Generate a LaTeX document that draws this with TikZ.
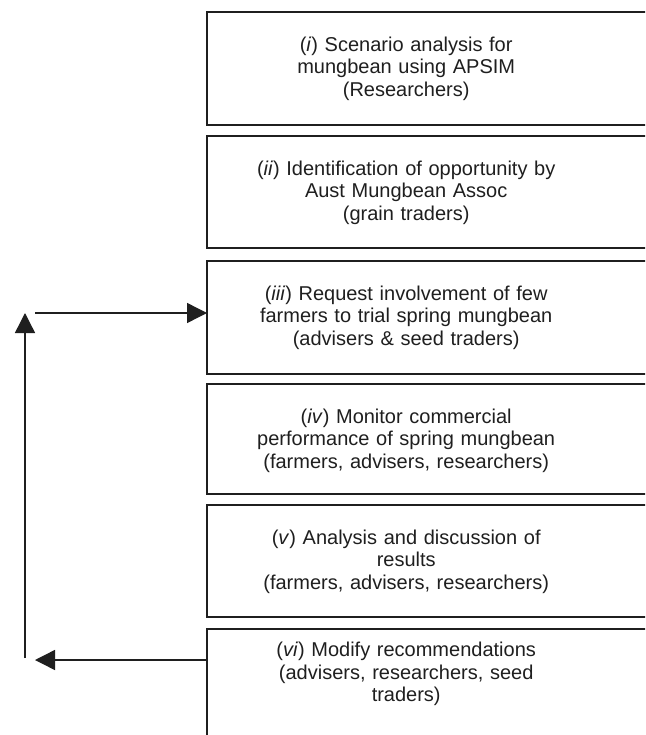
\documentclass[tikz,border=0pt]{standalone}
\usepackage{fontspec}
\setmainfont{Liberation Sans}
\usetikzlibrary{arrows.meta}
\colorlet{ink}{black!88}
\tikzset{
  stage/.style={anchor=north west, minimum width=398pt, minimum height=113pt,
    text width=390pt, align=center, inner sep=0pt,
    font=\fontsize{20}{22.5}\selectfont, text=ink},
  boxline/.style={ink, line width=1.6pt},
  flow/.style={ink, line width=1.4pt, -{Triangle[length=20pt, width=20pt]}}
}

\begin{document}
\begin{tikzpicture}[x=1pt, y=-1pt]
  \clip (0,0) rectangle (645,735);
  \fill[white] (0,0) rectangle (645,735);
\node[stage] (s1) at (207,12) {(\textit{i}) Scenario analysis for\\mungbean using APSIM\\(Researchers)};
\node[stage] (s2) at (207,136) {(\textit{ii}) Identification of opportunity by\\Aust Mungbean Assoc\\(grain traders)};
\node[stage] (s3) at (207,261) {(\textit{iii}) Request involvement of few\\farmers to trial spring mungbean\\(advisers \& seed traders)};
\node[stage] (s4) at (207,384) {(\textit{iv}) Monitor commercial\\performance of spring mungbean\\(farmers, advisers, researchers)};
\node[stage] (s5) at (207,505) {(\textit{v}) Analysis and discussion of\\results\\(farmers, advisers, researchers)};
\node[stage, minimum height=90pt] (s6) at (207,629) {(\textit{vi}) Modify recommendations\\(advisers, researchers, seed\\traders)};
  % open boxes, cut at the right margin
  \draw[boxline] ([xshift=460pt]s1.north west) -- (s1.north west) -- ++(0,113) -- ++(460,0);
  \draw[boxline] ([xshift=460pt]s2.north west) -- (s2.north west) -- ++(0,112) -- ++(460,0);
  \draw[boxline] ([xshift=460pt]s3.north west) -- (s3.north west) -- ++(0,113) -- ++(460,0);
  \draw[boxline] ([xshift=460pt]s4.north west) -- (s4.north west) -- ++(0,110) -- ++(460,0);
  \draw[boxline] ([xshift=460pt]s5.north west) -- (s5.north west) -- ++(0,112) -- ++(460,0);
  \draw[boxline] ([xshift=460pt]s6.north west) -- (s6.north west) -- ++(0,120);
  % feedback loop
  \coordinate (fwd) at (35,313);
  \coordinate (back) at (35,660);
  \coordinate (loopbot) at (25,658);
  \coordinate (looptop) at (25,313);
  \draw[flow] (fwd) -- (s3.west |- fwd);
  \draw[flow] (s6.west |- back) -- (back);
  \draw[flow] (loopbot) -- (looptop);
\end{tikzpicture}
\end{document}
